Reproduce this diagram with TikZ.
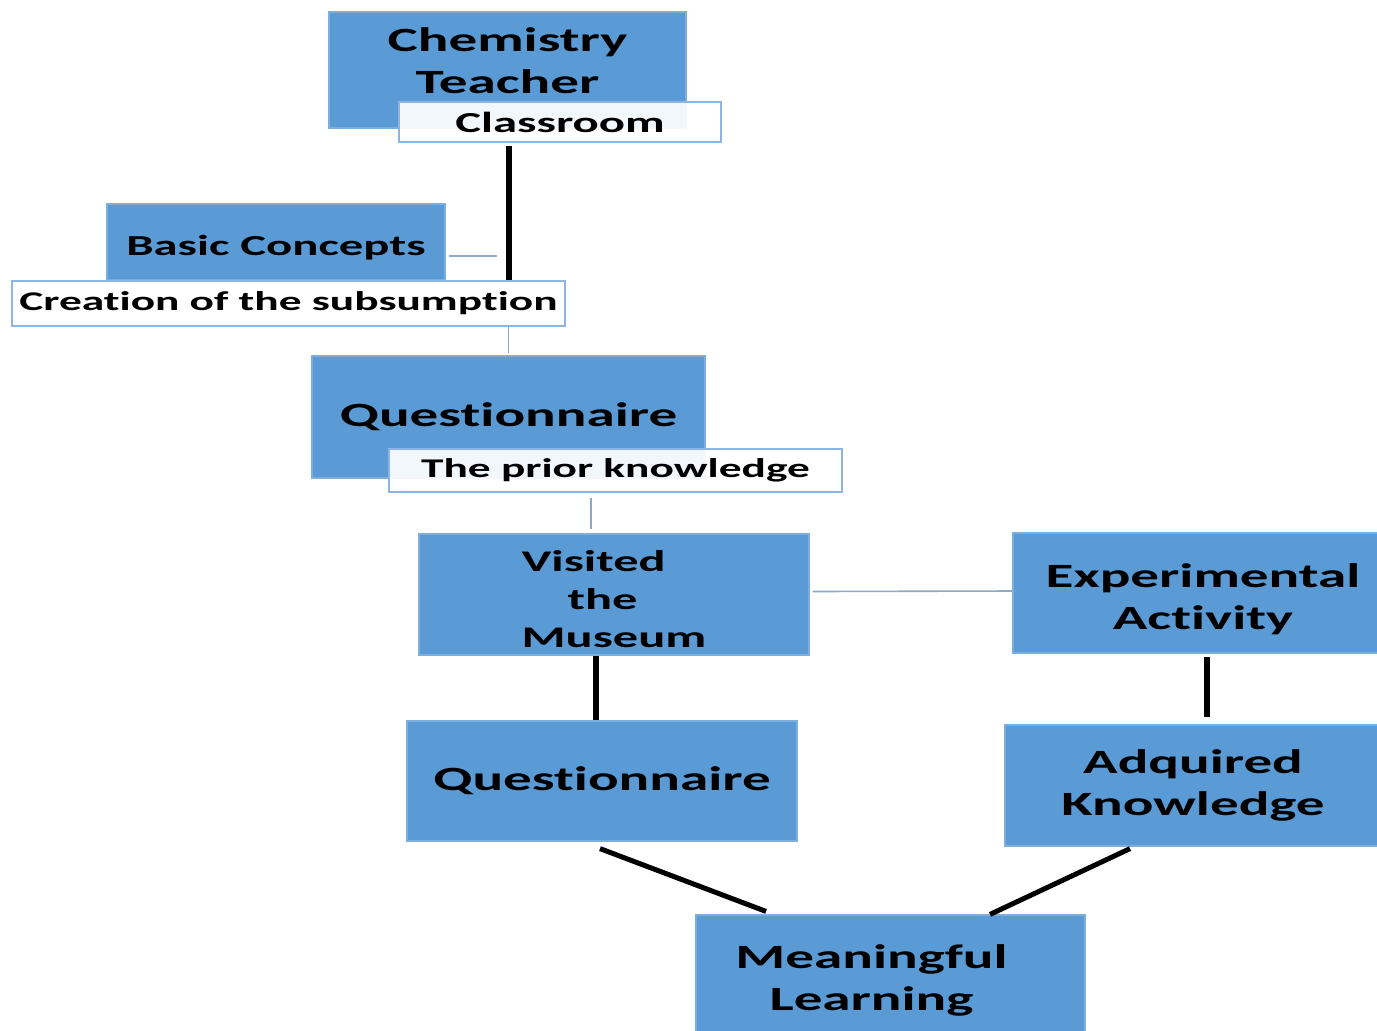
\documentclass[tikz,border=0pt]{standalone}
\usepackage{fontspec}
\setmainfont{Carlito}[FakeStretch=1.68,Ligatures=NoCommon]
\usetikzlibrary{calc}
\definecolor{boxblue}{HTML}{5B9BD5}
\definecolor{edgeblue}{HTML}{8DB4E2}
\definecolor{linkblue}{HTML}{8EA9C8}
\begin{document}
\begin{tikzpicture}[x=0.5pt,y=-0.5pt,
  main node/.style={rectangle,fill=boxblue,draw=boxblue!80!white,line width=0.6pt,align=center,inner sep=0pt,
    font=\fontsize{17}{21}\selectfont\bfseries},
  tag node/.style={rectangle,fill=white,fill opacity=0.92,text opacity=1,draw=edgeblue,line width=0.9pt,
    align=center,inner sep=0pt,font=\fontsize{13.5}{17}\selectfont\bfseries},
  bond/.style={line width=3pt,black},
  link/.style={line width=0.8pt,linkblue}]

  \useasboundingbox (0,0) rectangle (1377,1030);
  \clip (0,0) rectangle (1377,1030);

  \node[main node,minimum width=178.5pt,minimum height=58pt,text depth=9pt] (ct) at (507.5,70) {Chemistry\\Teacher};
  \node[tag node,minimum width=161pt,minimum height=20pt,font=\fontsize{14.5}{18}\selectfont\bfseries] (cl) at (560,122) {Classroom};
  \node[main node,minimum width=169pt,minimum height=38pt,text height=13pt,text depth=0pt,
    font=\fontsize{14.5}{18}\selectfont\bfseries] (bc) at (276,242) {Basic Concepts};
  \node[tag node,minimum width=276.5pt,minimum height=22.5pt] (cr) at (288.5,303.5) {Creation of the subsumption};
  \node[main node,minimum width=196.5pt,minimum height=61pt] (q1) at (508.5,417) {Questionnaire};
  \node[tag node,minimum width=226.5pt,minimum height=21.5pt] (pk) at (615.5,470.5) {The prior knowledge};
  \node[main node,minimum width=195pt,minimum height=60.5pt,align=left,text height=52.5pt,text depth=0pt,
    font=\fontsize{15}{19}\selectfont\bfseries] (vm) at (614,594.5) {Visited\\\hspace*{23pt}the\\Museum};
  \node[main node,minimum width=190pt,minimum height=60pt,text height=36pt,text depth=0pt] (ea) at (1203,593) {Experimental\\Activity};
  \node[main node,minimum width=195pt,minimum height=60pt] (q2) at (602,781) {Questionnaire};
  \node[main node,minimum width=188pt,minimum height=60.5pt] (ak) at (1193,785.5) {Adquired\\Knowledge};
  \node[main node,minimum width=194.5pt,minimum height=65pt] (ml) at (890.5,980) {Meaningful\hspace*{19pt}\\Learning\hspace*{19pt}};

  \coordinate (bcend) at (497,256);

  \draw[bond] ($(q1.north |- cl.south)+(0,3)$) -- (q1.north |- cr.north);
  \draw[link] ($(bc.east)+(3,14)$) -- (bcend);
  \draw[link] (q1.north |- cr.south) -- ($(q1.north)+(0,-2)$);
  \draw[link] ($(pk.south)+(-24.5,5)$) -- ($(vm.north)+(-23,-4)$);
  \draw[link] ($(vm.east)+(3,-3)$) -- ($(ea.west)+(0,-2)$);
  \draw[bond] ($(vm.south)+(-18,0)$) -- ($(q2.north)+(-6,0)$);
  \draw[bond] ($(ea.south)+(4,3)$) -- ($(ak.north)+(14,-7)$);
  \draw[bond,line width=2.5pt] ($(q2.south)+(-2,7)$) -- ($(ml.north)+(-124.5,-3)$);
  \draw[bond,line width=2.5pt] ($(ak.south)+(-63,2)$) -- ($(ml.north)+(99.5,0)$);
\end{tikzpicture}
\end{document}
